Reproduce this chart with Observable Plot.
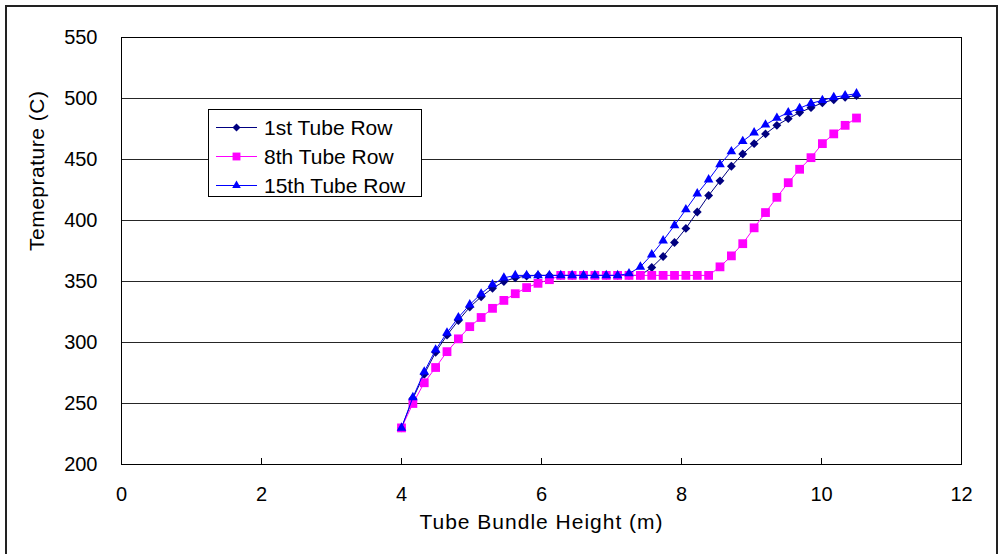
<!DOCTYPE html>
<html><head><meta charset="utf-8">
<script src="https://cdn.jsdelivr.net/npm/d3@7"></script>
<script src="https://cdn.jsdelivr.net/npm/@observablehq/plot@0.6"></script>
<style>
body{margin:0;background:#fff;}
#wrap{position:relative;width:999px;height:554px;overflow:hidden;font-family:Arial,"Liberation Sans",sans-serif;}
#wrap > svg.chart{position:absolute;left:0;top:0;}
#border{position:absolute;left:5px;top:5px;width:993px;height:620px;border:2px solid #222;box-sizing:border-box;}
#legend{position:absolute;left:208px;top:109px;width:214px;height:88px;box-sizing:border-box;border:1px solid #000;background:#fff;}
</style></head>
<body><div id="wrap"><div id="border"></div></div>
<script>
const heights = [4, 4.1625, 4.325, 4.4875, 4.65, 4.8125, 4.975, 5.1375, 5.3, 5.4625, 5.625, 5.7875, 5.95, 6.1125, 6.275, 6.4375, 6.6, 6.7625, 6.925, 7.0875, 7.25, 7.4125, 7.575, 7.7375, 7.9, 8.0625, 8.225, 8.3875, 8.55, 8.7125, 8.875, 9.0375, 9.2, 9.3625, 9.525, 9.6875, 9.85, 10.0125, 10.175, 10.3375, 10.5];
const row1st = [230, 254, 274, 292, 306, 318, 329, 337.5, 344.5, 350, 353, 354.5, 355, 355, 355, 355, 355, 355, 355, 355, 355, 355, 361.5, 370.5, 382, 393.5, 407, 420.5, 432.5, 444.5, 454.5, 463, 471, 478, 483.5, 488.5, 492.5, 496.5, 499, 501, 502.5];
const row8th = [230, 250, 267, 279.5, 292.5, 303, 313, 320.5, 328, 334.5, 340, 345, 348.5, 351.5, 355, 355, 355, 355, 355, 355, 355, 355, 355, 355, 355, 355, 355, 355, 362, 371, 381, 394, 406.5, 419, 431, 442, 451.5, 463, 471, 478, 484];
const row15th = [230, 255, 276, 294, 308, 320.5, 331, 340, 347.5, 353, 355, 355, 355, 355, 355, 355, 355, 355, 355, 355, 356.5, 362, 372, 383.5, 396, 409, 422, 433.5, 446, 456.5, 465, 472, 478.5, 484, 488.5, 492, 496, 498.5, 501, 502.5, 504];
const seriesNames = ["1st Tube Row", "8th Tube Row", "15th Tube Row"];
const xTicks = [0, 2, 4, 6, 8, 10, 12];
const yTicks = [200, 250, 300, 350, 400, 450, 500, 550];
const xTitle = "Tube Bundle Height (m)";
const yTitle = "Temeprature (C)";

const colors = ["#000080", "#FF00FF", "#0000FF"];
const symbols = ["diamond2", "square2", "triangle2"];
const radii = [4, 5.6, 4.6];
const allRows = [row1st, row8th, row15th];
const tables = allRows.map(r => heights.map((h, i) => ({h, t: r[i]})));

const marks = [
  Plot.gridY(yTicks, {stroke: "#000", strokeOpacity: 0.85, strokeWidth: 1}),
  Plot.axisY(yTicks, {tickSize: 0, tickPadding: 24, label: null, fontSize: 20}),
  Plot.axisX(xTicks, {tickSize: 0, tickPadding: 22, label: null, fontSize: 20}),
  Plot.axisX(xTicks, {tickSize: -6, tickFormat: () => "", label: null}),
  Plot.frame({stroke: "#000", strokeWidth: 1})
];
tables.forEach((tb, k) => {
  marks.push(Plot.line(tb, {x: "h", y: "t", stroke: colors[k], strokeWidth: 1}));
  marks.push(Plot.dot(tb, {x: "h", y: "t", symbol: symbols[k], r: radii[k], fill: colors[k], stroke: "none"}));
});
marks.push(Plot.text([xTitle], {frameAnchor: "bottom", dy: 64, text: d => d, fontSize: 21}));
marks.push(Plot.text([yTitle], {frameAnchor: "left", dx: -84, rotate: -90, text: d => d, fontSize: 21}));

const chart = Plot.plot({
  width: 999, height: 554,
  marginLeft: 121, marginRight: 38, marginTop: 37, marginBottom: 90,
  style: {fontFamily: "Arial, 'Liberation Sans', sans-serif", fontSize: "20px", background: "transparent", color: "#000", overflow: "visible"},
  x: {domain: [0, 12]},
  y: {domain: [200, 550]},
  marks
});
chart.classList.add("chart");
const wrap = document.getElementById("wrap");
wrap.appendChild(chart);
// letter spacing for titles
d3.select(chart).selectAll("text").filter(function() { return this.textContent === xTitle; }).style("letter-spacing", "1px");
d3.select(chart).selectAll("text").filter(function() { return this.textContent === yTitle; }).style("letter-spacing", "0.5px");

// legend
const leg = document.createElement("div");
leg.id = "legend";
wrap.appendChild(leg);
const svg = d3.select(leg).append("svg").attr("width", 212).attr("height", 86).style("display", "block");
const rowY = [17.5, 46.5, 75.5];
seriesNames.forEach((name, k) => {
  const g = svg.append("g").attr("transform", `translate(0,${rowY[k]})`);
  g.append("line").attr("x1", 7).attr("x2", 48).attr("y1", 0).attr("y2", 0).attr("stroke", colors[k]).attr("stroke-width", 1);
  const sym = {diamond2: d3.symbolDiamond2, square2: d3.symbolSquare2, triangle2: d3.symbolTriangle2}[symbols[k]];
  g.append("path").attr("transform", "translate(27.5,0)").attr("d", d3.symbol(sym, Math.PI * radii[k] * radii[k] * 0.8)()).attr("fill", colors[k]);
  g.append("text").attr("x", 55).attr("y", 0).attr("dy", "0.36em").attr("font-size", 21).attr("font-family", "Arial, 'Liberation Sans', sans-serif").text(name);
});
</script>
</body></html>
